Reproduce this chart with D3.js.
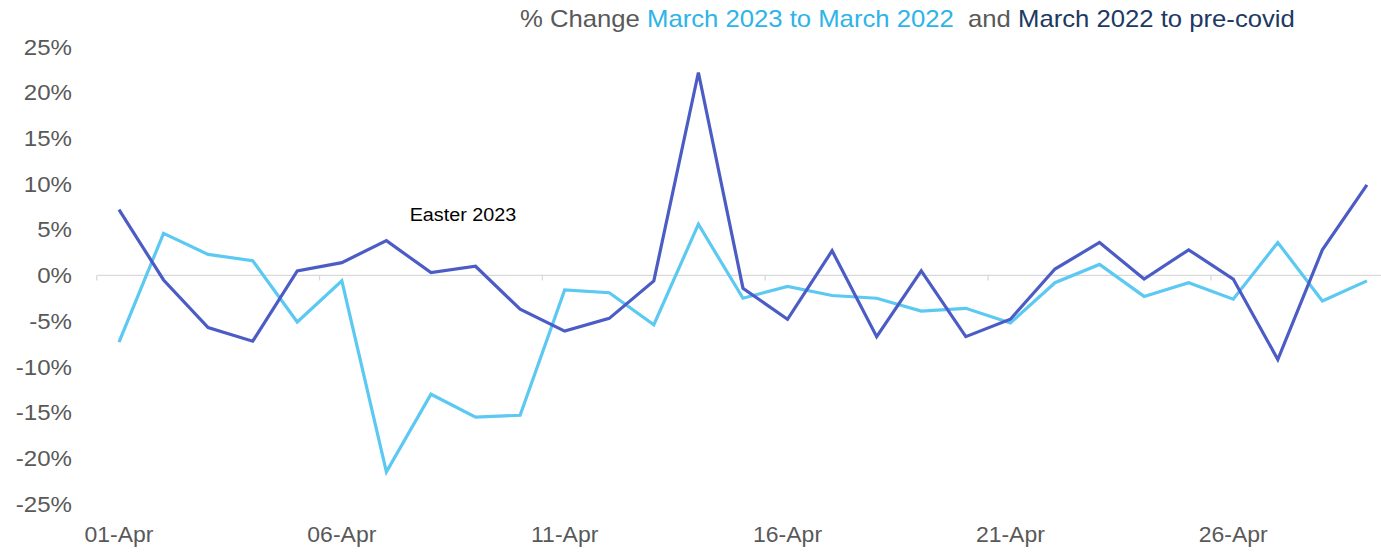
<!DOCTYPE html>
<html>
<head>
<meta charset="utf-8">
<script src="https://cdn.jsdelivr.net/npm/d3@7"></script>
<style>
  html, body { margin: 0; padding: 0; background: #fff; }
  svg { display: block; font-family: "Liberation Sans", Arial, sans-serif; }
</style>
</head>
<body>
<svg id="chart" width="1381" height="554"></svg>
<script>
// ---- data ----
const categories = ["01-Apr","02-Apr","03-Apr","04-Apr","05-Apr","06-Apr","07-Apr","08-Apr","09-Apr","10-Apr",
  "11-Apr","12-Apr","13-Apr","14-Apr","15-Apr","16-Apr","17-Apr","18-Apr","19-Apr","20-Apr",
  "21-Apr","22-Apr","23-Apr","24-Apr","25-Apr","26-Apr","27-Apr","28-Apr","29-Apr"];
const tickLabels = ["01-Apr","06-Apr","11-Apr","16-Apr","21-Apr","26-Apr"];
const yTicks = [25,20,15,10,5,0,-5,-10,-15,-20,-25];
// % change March 2023 vs March 2022
const change2023vs2022 = [-7.3,4.6,2.3,1.6,-5.1,-0.6,-21.5,-13.0,-15.5,-15.3,
  -1.6,-1.9,-5.4,5.6,-2.5,-1.2,-2.2,-2.5,-3.9,-3.6,
  -5.2,-0.8,1.2,-2.3,-0.8,-2.6,3.6,-2.8,-0.6];
// % change March 2022 vs pre-covid
const change2022vsPre = [7.2,-0.5,-5.7,-7.2,0.5,1.4,3.8,0.3,1.0,-3.7,
  -6.1,-4.7,-0.6,22.2,-1.4,-4.8,2.7,-6.7,0.5,-6.7,
  -4.8,0.7,3.6,-0.4,2.8,-0.4,-9.2,2.8,9.9];
const annotation = { label: "Easter 2023", category: "08-Apr", value: 6.7 };

// ---- layout ----
const W = 1381, H = 554;
const SX = 1.07; // slight horizontal stretch of the original's text
const svg = d3.select("#chart");
const x = d3.scaleBand().domain(categories).range([96.7, 96.7 + 44.57 * categories.length]).padding(0);
const y = d3.scaleLinear().domain([-25, 25]).range([503.9, 46.9]);
const cx = d => x(d) + x.bandwidth() / 2;

const colLight = "#5BC9F1", colDark = "#4B5CC5", gray = "#595959";

// y axis labels (no line)
const yAxis = d3.axisLeft(y).tickValues(yTicks).tickSize(0).tickPadding(0)
  .tickFormat(d => d + "%");
const gy = svg.append("g").attr("transform", "translate(72,0)").call(yAxis);
gy.select(".domain").remove();
gy.selectAll("text").attr("fill", gray).attr("font-size", 22.5)
  .attr("font-family", "Liberation Sans, Arial, sans-serif")
  .attr("transform", `scale(${SX},1)`).attr("x", 0);

// zero line with category ticks at boundaries
svg.append("line").attr("x1", x.range()[0]).attr("x2", W)
  .attr("y1", y(0)).attr("y2", y(0)).attr("stroke", "#d9d9d9").attr("stroke-width", 1.3);
svg.selectAll(".cat-tick").data(tickLabels).join("line").attr("class", "cat-tick")
  .attr("x1", d => x(d)).attr("x2", d => x(d))
  .attr("y1", y(0)).attr("y2", y(0) + 5).attr("stroke", "#d9d9d9").attr("stroke-width", 1.3);

// x labels
const xAxis = d3.axisBottom(x).tickValues(tickLabels).tickSize(0).tickPadding(0);
const gx = svg.append("g").attr("transform", "translate(0,527)").call(xAxis);
gx.select(".domain").remove();
gx.selectAll("text").attr("fill", gray).attr("font-size", 21.5)
  .attr("font-family", "Liberation Sans, Arial, sans-serif")
  .attr("transform", `scale(${SX},1)`).attr("y", 0).attr("dy", "0.71em");

// lines
const line = d3.line().x((d, i) => cx(categories[i])).y(d => y(d));
svg.append("path").datum(change2023vs2022).attr("d", line)
  .attr("fill", "none").attr("stroke", colLight).attr("stroke-width", 3.2).attr("stroke-linejoin", "miter");
svg.append("path").datum(change2022vsPre).attr("d", line)
  .attr("fill", "none").attr("stroke", colDark).attr("stroke-width", 3.2).attr("stroke-linejoin", "miter");

// annotation
svg.append("g").attr("transform", `translate(${cx(annotation.category) + 32},${y(annotation.value)})`)
  .append("text").attr("transform", `scale(${SX},1)`).attr("text-anchor", "middle")
  .attr("font-size", 18.5).attr("fill", "#000").attr("dy", "0.35em").text(annotation.label);

// title
const title = svg.append("g").attr("transform", "translate(520,27)")
  .append("text").attr("transform", `scale(${SX},1)`).attr("font-size", 24).attr("x", 0);
title.append("tspan").attr("fill", gray).text("% Change ");
title.append("tspan").attr("fill", "#2DB4E8").text("March 2023 to March 2022");
title.append("tspan").attr("fill", gray).text("\u00A0 and ");
title.append("tspan").attr("fill", "#203864").text("March 2022 to pre-covid");
</script>
</body>
</html>
